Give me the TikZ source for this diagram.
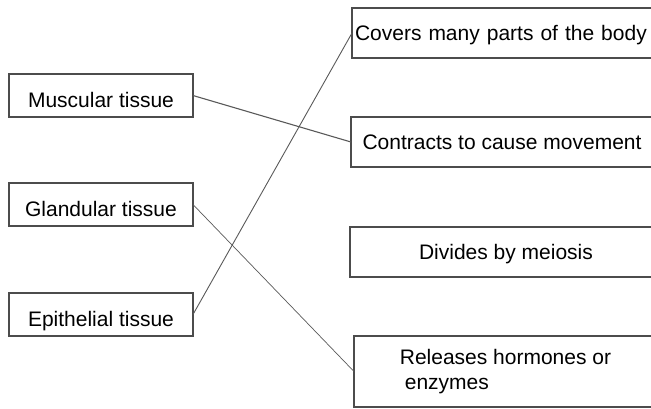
\documentclass[tikz,border=0pt]{standalone}
\usepackage{fontspec}
\setmainfont{Liberation Sans}
\definecolor{dark-gray}{gray}{0.3}
\definecolor{mid-gray}{gray}{0.35}

\begin{document}
\begin{tikzpicture}[x=1pt,y=-1pt,font=\fontsize{21}{25}\selectfont,
		tissue/.style={draw=dark-gray,line width=1.3pt,rectangle,anchor=north west,inner sep=0pt,outer sep=0pt,minimum width=184pt,minimum height=43pt,text height=23pt,text depth=0pt},
		role/.style={draw=dark-gray,line width=1.3pt,rectangle,anchor=north west,inner sep=0pt,outer sep=0pt,minimum height=50pt,text height=15pt,text depth=0pt},
		wire/.style={draw=mid-gray,line width=0.9pt}]
			\useasboundingbox (0,0) rectangle (651,408);						% page
			\clip (0,0) rectangle (651,408);								% right boxes run off the page
			\node[tissue] (mus) at (9,74) {Muscular tissue};					% tissues
			\node[tissue] (gla) at (9,183) {Glandular tissue};
			\node[tissue] (epi) at (9,293) {Epithelial tissue};
			\node[role,minimum width=306pt,text width=300pt,align=left] (cov) at (352,8) {Covers many parts of the body};	% roles
			\node[role,minimum width=302pt] (con) at (351,117) {Contracts to cause movement};
			\node[role,minimum width=312pt] (div) at (350,227) {Divides by meiosis};
			\node[role,minimum width=303pt,minimum height=71pt,align=left,text height={},text depth={},yshift=0pt] (rel) at (354,336) {Releases hormones or\\\hspace*{5pt}enzymes};
			\draw[wire,line width=1.1pt] (mus.east) -- (con.west);			% matches
			\draw[wire,line width=0.7pt] (gla.east) -- (rel.west);
			\draw[wire] (epi.east) -- (cov.west);
		\end{tikzpicture}
\end{document}
